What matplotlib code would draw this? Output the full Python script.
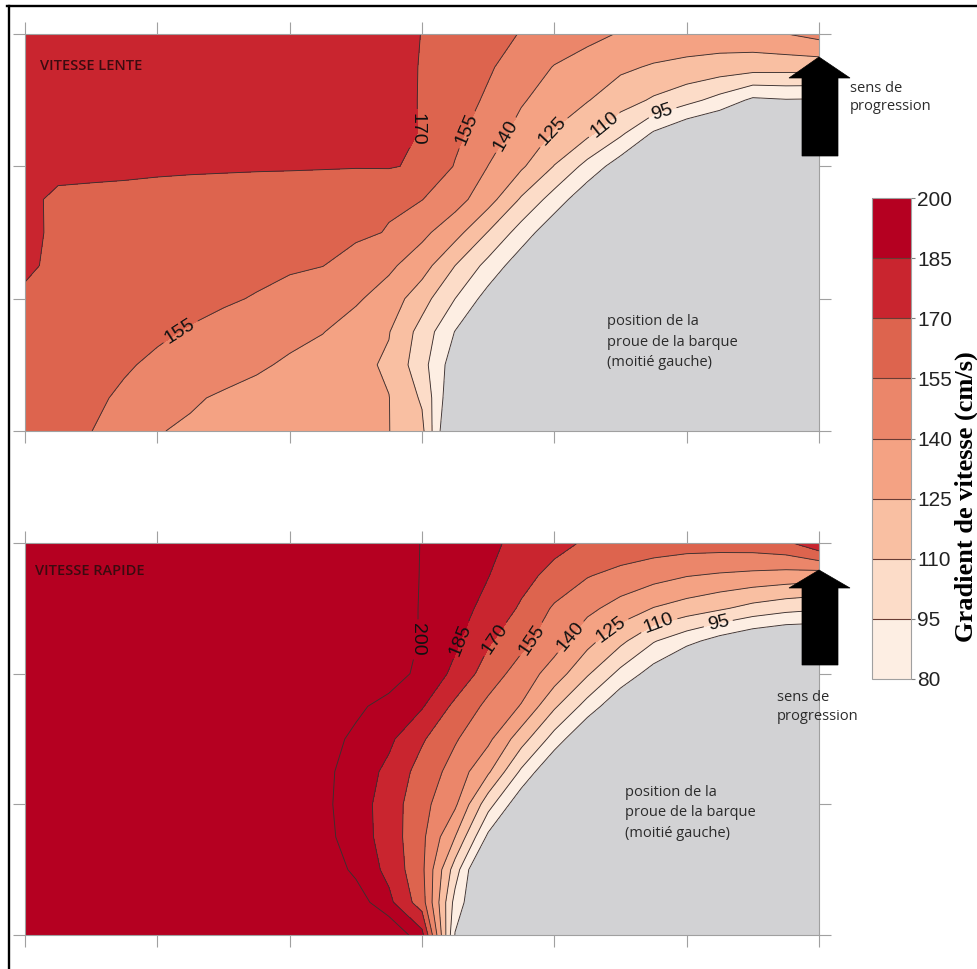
import numpy as np
import matplotlib
matplotlib.use("Agg")
import matplotlib.pyplot as plt
from matplotlib.colors import ListedColormap, BoundaryNorm
from matplotlib.patches import Polygon
from matplotlib.lines import Line2D
import matplotlib.cm as cm

plt.rcParams['font.family'] = ['Liberation Sans', 'DejaVu Sans']

# ---------------- data ----------------
levels = [80, 95, 110, 125, 140, 155, 170, 185, 200]
band_colors = ['#FDEEE3', '#FCDCC8', '#F9BFA2', '#F4A283',
               '#EB866A', '#DD644E', '#C9252F', '#B50021']
boat_color = '#D2D2D4'

x_nodes = np.linspace(0, 6, 25)   # 0, 0.25, ... 6
y_nodes = np.linspace(0, 3, 13)   # 0, 0.25, ... 3

# VITESSE LENTE : values (cm/s) read on a 0.25 grid, bottom row first
lente = [
    [163, 159.1, 155.2, 148.1, 140.7, 138.0, 135.9, 133.7, 131.5, 129.4, 127.2, 125.3, 113.8, 52, 45, 40, 40, 40, 40, 40, 40, 40, 40, 40, 40],
    [164, 160.6, 157.25, 153.1, 147.4, 141.7, 138.2, 135.5, 132.8, 130.2, 127.6, 125.3, 108.0, 63.8, 50, 40, 40, 40, 40, 40, 40, 40, 40, 40, 40],
    [166, 162.8, 159.5, 156.3, 152.8, 149.2, 145.7, 142.0, 138.0, 133.5, 129.0, 122.8, 100.6, 71, 55, 45, 40, 40, 40, 40, 40, 40, 40, 40, 40],
    [168, 165.2, 162.5, 159.7, 156.9, 154.0, 150.6, 147.2, 143.8, 140.5, 133.4, 125.7, 104.4, 79.5, 60, 48, 40, 40, 40, 40, 40, 40, 40, 40, 40],
    [169, 166.9, 164.9, 162.8, 160.8, 158.7, 156.7, 154.1, 150.1, 146.0, 142.0, 133.3, 116.0, 95.0, 73.5, 58, 48, 40, 40, 40, 40, 40, 40, 40, 40],
    [171, 168.7, 167.0, 165.3, 163.7, 162.0, 160.3, 158.6, 156.9, 155.25, 149.4, 142.8, 131.6, 110.0, 90.2, 70.4, 55, 45, 40, 40, 40, 40, 40, 40, 40],
    [172, 168.5, 167.8, 166.4, 164.9, 163.5, 162.1, 160.6, 159.2, 157.8, 157.5, 154.3, 143.6, 130.6, 109.3, 88.4, 68.6, 52, 45, 40, 40, 40, 40, 40, 40],
    [172.5, 168.0, 167.5, 166.9, 165.6, 164.4, 163.1, 161.8, 160.5, 159.2, 157.9, 156.6, 155.3, 145.8, 131.0, 108.2, 88.4, 68.6, 52, 45, 40, 40, 40, 40, 40],
    [173, 172.8, 172.5, 172.3, 172.1, 171.9, 171.8, 171.6, 171.5, 171.2, 170.8, 171.0, 168.0, 154.1, 139.8, 127.3, 109.4, 90.0, 71.7, 55, 48, 45, 45, 45, 45],
    [175, 175.5, 176, 176, 176, 176, 176, 176, 175.5, 175, 174.5, 173, 169.5, 158.4, 146.8, 135.1, 123.75, 113.4, 97.8, 78.2, 65, 58, 55, 55, 55],
    [176, 176.5, 177, 177, 177, 177, 177, 177, 176.5, 176, 175, 173, 169.5, 161.5, 152.9, 141.4, 133.3, 125.7, 116.8, 108, 99.75, 89.75, 77, 79, 78.5],
    [177, 177.5, 178, 178, 178, 178, 178, 178, 177.5, 177, 176, 173.5, 169.5, 163.1, 156.7, 148.2, 139.3, 133.5, 127.6, 123.5, 121, 118.5, 116.5, 116, 116],
    [178, 178.5, 179, 179, 179, 179, 179, 179, 178.5, 178, 177, 174, 169.8, 164.7, 159.5, 154.4, 149.2, 144.1, 139, 136, 134, 134, 135.5, 139.8, 145],
]

# VITESSE RAPIDE
rapide = [
    [215, 215, 215, 215, 215, 215, 215, 215, 215, 215, 215, 215, 190, 79, 60, 50, 45, 45, 45, 45, 45, 45, 45, 45, 45],
    [215, 215, 215, 215, 215, 215, 215, 215, 215, 215, 208.4, 188.6, 162.1, 89.4, 55, 45, 45, 45, 45, 45, 45, 45, 45, 45, 45],
    [215, 215, 215, 215, 215, 215, 215, 215, 215, 210.7, 196.6, 180.9, 158.4, 102.5, 48, 42, 42, 42, 42, 42, 42, 42, 42, 42, 42],
    [215, 215, 215, 215, 215, 215, 215, 215, 215, 204.6, 192.9, 178.1, 158.5, 125, 76.5, 55, 45, 45, 45, 45, 45, 45, 45, 45, 45],
    [215, 215, 215, 215, 215, 215, 215, 215, 215, 203.4, 192.2, 177.8, 159.7, 142.6, 100.8, 68, 52, 45, 45, 45, 45, 45, 45, 45, 45],
    [215, 215, 215, 215, 215, 215, 215, 215, 215, 203.75, 193.4, 181.4, 163.8, 149.4, 127.3, 92.4, 63.2, 50, 45, 45, 45, 45, 45, 45, 45],
    [215, 215, 215, 215, 215, 215, 215, 215, 215, 206, 197, 188, 171.8, 156.4, 143.5, 116.6, 88.7, 62.6, 50, 45, 45, 45, 45, 45, 45],
    [215, 215, 215, 215, 215, 215, 215, 215, 215, 211.4, 203, 194.7, 186.3, 166.5, 151.4, 139.1, 112.25, 88.9, 66.4, 52, 45, 45, 45, 45, 45],
    [215, 215, 215, 215, 215, 215, 215, 215, 215, 215, 215, 207.9, 195.5, 181.7, 162.5, 148.6, 133.25, 111.8, 90.7, 73, 55, 48, 48, 48, 48],
    [215, 215, 215, 215, 215, 215, 215, 215, 215, 215, 215, 209.9, 198.6, 187.4, 172, 159.1, 146.3, 129.8, 113.6, 96.1, 84.7, 73.7, 65, 60, 60],
    [215, 215, 215, 215, 215, 215, 215, 215, 215, 215, 215, 207.4, 199, 190.6, 180.9, 168, 153, 143.7, 134, 124.4, 118.25, 112.1, 105, 100, 97],
    [215, 215, 215, 215, 215, 215, 215, 215, 215, 215, 215, 206.3, 199.4, 192.4, 185.4, 175.1, 165.2, 155.8, 150.5, 145.5, 140.6, 138, 136, 134, 132],
    [215, 215, 215, 215, 215, 215, 215, 215, 215, 215, 215, 205.6, 199.6, 193.7, 187.7, 181.4, 174.7, 168, 165, 163, 162, 162, 163, 167, 182],
]

panel_titles = ['VITESSE LENTE', 'VITESSE RAPIDE']
tick_labels_cb = [str(v) for v in levels]
cb_title = 'Gradient de vitesse (cm/s)'
boat_text = ['position de la', 'proue de la barque', '(moitié gauche)']
arrow_text = ['sens de', 'progression']

# ---------------- figure ----------------
W, H = 978, 969
fig = plt.figure(figsize=(W / 100, H / 100), dpi=100)
fig.patch.set_facecolor('white')


def fx(px):
    return px / W


def fy(py):
    return 1 - py / H


cmap = ListedColormap(band_colors).with_extremes(under=boat_color, over=band_colors[-1])
norm = BoundaryNorm(levels, cmap.N)

ax_top = fig.add_axes([fx(25), fy(431), fx(819) - fx(25), fy(34) - fy(431)])
ax_bot = fig.add_axes([fx(25), fy(935), fx(819) - fx(25), fy(543) - fy(935)])

label_pos = [
    [(2.97, 2.28), (3.31, 2.29), (3.56, 2.28), (3.93, 2.31), (4.38, 2.31), (4.81, 2.43), (1.17, 0.76)],
    [(2.97, 2.26), (3.29, 2.26), (3.54, 2.27), (3.79, 2.28), (4.10, 2.30), (4.42, 2.35), (4.80, 2.33), (5.24, 2.38)],
]

for ax, Z, lp in zip([ax_top, ax_bot], [lente, rapide], label_pos):
    Z = np.array(Z, dtype=float)
    ax.contourf(x_nodes, y_nodes, Z, levels=levels, cmap=cmap, norm=norm, extend='both')
    cl = ax.contour(x_nodes, y_nodes, Z, levels=levels, colors='#3a3030', linewidths=0.65)
    txts = ax.clabel(cl, levels=levels, manual=lp, inline=True, inline_spacing=4,
                     fontsize=14, fmt='%d', colors='#111111')
    if txts:
        txts[0].set_rotation(270)
    ax.set_xlim(0, 6)
    ax.set_ylim(0, 3)
    ax.set_xticks(range(7))
    ax.set_yticks(range(4))
    ax.tick_params(direction='out', length=8.6, width=0.8, color='#a0a0a0',
                   top=True, right=True, labelbottom=False, labelleft=False)
    for s in ax.spines.values():
        s.set_color('#a0a0a0')
        s.set_linewidth(0.8)

# panel titles
fig.text(fx(40), fy(70), panel_titles[0], ha='left', va='baseline', fontsize=10.5,
         family='Open Sans', fontweight='semibold', color='#3b0b10')
fig.text(fx(35), fy(575), panel_titles[1], ha='left', va='baseline', fontsize=10.5,
         family='Open Sans', fontweight='semibold', color='#3b0b10')

# boat annotations
for (x0, y0) in [(607, 325), (625, 796)]:
    for i, line in enumerate(boat_text):
        fig.text(fx(x0), fy(y0 + 20.5 * i), line, ha='left', va='baseline',
                 fontsize=10.5, family='Open Sans', color='#2b2b2b')

# arrow texts
for (x0, y0) in [(850, 92), (777, 701)]:
    for i, line in enumerate(arrow_text):
        fig.text(fx(x0), fy(y0 + 18.5 * i), line, ha='left', va='baseline',
                 fontsize=10.5, family='Open Sans', color='#2b2b2b')


# arrows (decoration, figure pixels)
def arrow(tip_y, base_y, bottom_y):
    pts = [(819, tip_y), (850, base_y), (838, base_y), (838, bottom_y),
           (802, bottom_y), (802, base_y), (789, base_y)]
    return Polygon([(fx(a), fy(b)) for a, b in pts], closed=True,
                   transform=fig.transFigure, facecolor='black', edgecolor='black', lw=0.5)


fig.add_artist(arrow(57, 78, 156))
fig.add_artist(arrow(570, 588, 665))

# colorbar
cax = fig.add_axes([fx(872), fy(679), fx(911) - fx(872), fy(198) - fy(679)])
sm = cm.ScalarMappable(norm=norm, cmap=cmap)
cb = fig.colorbar(sm, cax=cax, ticks=levels, drawedges=True, extend='neither')
cb.outline.set_edgecolor('#a0a0a0')
cb.outline.set_linewidth(0.8)
cb.dividers.set_color('#6a3c34')
cb.dividers.set_linewidth(0.8)
cax.set_yticklabels(tick_labels_cb)
cax.tick_params(labelsize=15, length=3, width=0.8, color='#808080', direction='out',
                pad=1.5, labelcolor='#222222')

fig.text(fx(978), fy(497), cb_title, rotation=90, ha='right', va='center',
         fontsize=19, fontweight='bold', family='Liberation Serif', color='black')

# outer frame (left and top visible)
fig.add_artist(Line2D([fx(8.5), fx(8.5)], [fy(6), 0], color='black', lw=1.7,
                      transform=fig.transFigure))
fig.add_artist(Line2D([fx(7.5), 1], [fy(6.2), fy(6.2)], color='black', lw=1.7,
                      transform=fig.transFigure))

fig.savefig('out.png', dpi=100)
